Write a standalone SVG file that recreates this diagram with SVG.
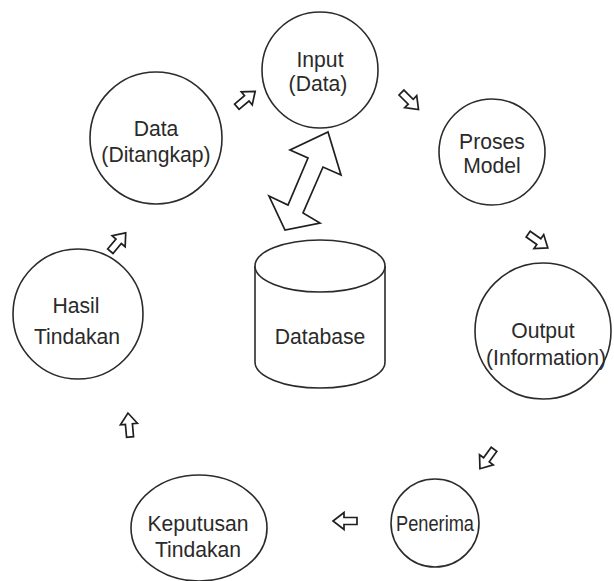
<svg xmlns="http://www.w3.org/2000/svg" width="614" height="581" viewBox="0 0 614 581">
  <style>
    .node { fill: #ffffff; stroke: #2b2b2b; stroke-width: 1.6; }
    .lbl { font-family: "Liberation Sans", Arial, sans-serif; font-size: 22.5px; fill: #2a2a2a; text-anchor: middle; }
    .flow { fill: #ffffff; stroke: #1f1f1f; stroke-width: 1.7; stroke-linejoin: miter; }
  </style>
  <defs>
    <!-- hollow block arrow pointing right, centred on the origin -->
    <path id="blk" d="M-12,-3.5 H1 V-8.5 L12,0 L1,8.5 V3.5 H-12 Z"/>
  </defs>
  <rect width="614" height="581" fill="#ffffff"/>

  <g id="connectors">
    <use href="#blk" class="flow" transform="translate(246,99) rotate(-40)"/>
    <use href="#blk" class="flow" transform="translate(410,101) rotate(45)"/>
    <use href="#blk" class="flow" transform="translate(538,241) rotate(35)"/>
    <use href="#blk" class="flow" transform="translate(487,459) rotate(126)"/>
    <use href="#blk" class="flow" transform="translate(345,521) rotate(180)"/>
    <use href="#blk" class="flow" transform="translate(129,425) rotate(-95)"/>
    <use href="#blk" class="flow" transform="translate(118,242) rotate(-50)"/>
    <!-- two-way link between the input node and the database -->
    <path class="flow" d="M328,132 L341,175 L323,167 L303,213 L320,223 L285,230 L269,196 L288,205 L308,158 L290,150 Z"/>
  </g>

  <g id="input">
    <circle class="node" cx="320" cy="70" r="58"/>
    <text class="lbl" transform="translate(320,67) scale(0.94,1)">Input</text>
    <text class="lbl" transform="translate(318,91) scale(0.94,1)">(Data)</text>
  </g>

  <g id="data">
    <circle class="node" cx="156" cy="138" r="66"/>
    <text class="lbl" transform="translate(156,136) scale(0.94,1)">Data</text>
    <text class="lbl" transform="translate(156,162) scale(0.94,1)">(Ditangkap)</text>
  </g>

  <g id="proses">
    <circle class="node" cx="492" cy="152" r="53"/>
    <text class="lbl" transform="translate(492,149) scale(0.94,1)">Proses</text>
    <text class="lbl" transform="translate(492,173) scale(0.94,1)">Model</text>
  </g>

  <g id="output">
    <circle class="node" cx="543" cy="331" r="68"/>
    <text class="lbl" transform="translate(543,338) scale(0.94,1)">Output</text>
    <text class="lbl" transform="translate(546,365) scale(0.94,1)">(Information)</text>
  </g>

  <g id="penerima">
    <circle class="node" cx="435" cy="523" r="44"/>
    <text class="lbl" x="435" y="531" textLength="78" lengthAdjust="spacingAndGlyphs">Penerima</text>
  </g>

  <g id="keputusan">
    <ellipse class="node" cx="199" cy="528" rx="68" ry="53"/>
    <text class="lbl" transform="translate(198,531) scale(0.94,1)">Keputusan</text>
    <text class="lbl" transform="translate(198,557) scale(0.94,1)">Tindakan</text>
  </g>

  <g id="hasil">
    <circle class="node" cx="78" cy="314" r="65"/>
    <text class="lbl" transform="translate(76,313) scale(0.94,1)">Hasil</text>
    <text class="lbl" transform="translate(77,344) scale(0.94,1)">Tindakan</text>
  </g>

  <g id="database">
    <path class="node" d="M255,266 V362 A65,26 0 0 0 385,362 V266"/>
    <ellipse class="node" cx="320" cy="266" rx="65" ry="26"/>
    <text class="lbl" transform="translate(320,344) scale(0.94,1)">Database</text>
  </g>
</svg>
